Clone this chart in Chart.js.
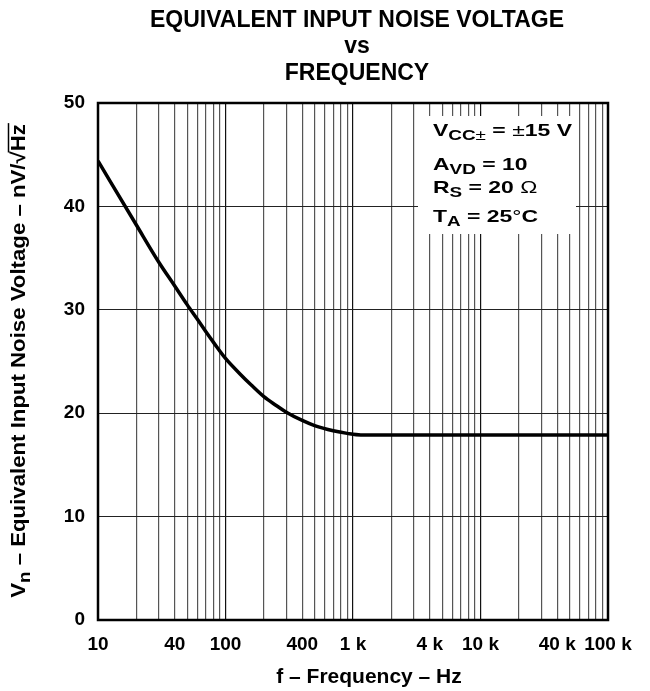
<!DOCTYPE html>
<html>
<head>
<meta charset="utf-8">
<script src="https://cdn.jsdelivr.net/npm/chart.js@4.4.0/dist/chart.umd.min.js"></script>
<style>
  html, body { margin: 0; padding: 0; background: #fff; }
  #wrap { width: 650px; height: 691px; }
</style>
</head>
<body>
<div id="wrap"><canvas id="noiseChart" width="650" height="691"></canvas></div>
<script>
// curve
const freqHz  = [10, 20, 30, 40, 50, 60, 70, 80, 100, 130, 160, 200, 250, 300, 400, 500, 700, 900, 1150, 2000, 100000];
const noiseNv = [44.4, 38.2, 34.6, 32.3, 30.5, 29.1, 27.9, 26.9, 25.3, 23.8, 22.7, 21.6, 20.75, 20.1, 19.3, 18.8, 18.3, 18.05, 17.9, 17.9, 17.9];

const xTickValues = [10, 40, 100, 400, 1000, 4000, 10000, 40000, 100000];
const xTickText   = ['10', '40', '100', '400', '1 k', '4 k', '10 k', '40 k', '100 k'];

const titleLines = ['EQUIVALENT INPUT NOISE VOLTAGE', 'vs', 'FREQUENCY'];

const FONT = "'Liberation Sans', Arial, sans-serif";

// grid lines at 1..9 x each decade
const gridValues = [];
for (let d = 10; d < 100000; d *= 10) {
  for (let m = 1; m < 10; m++) gridValues.push(d * m);
}
gridValues.push(100000);

// runs are [text, isSub, plainWeight]
function setFont(ctx, size, sub, plain) {
  const fs = sub ? Math.round(size * 0.85) : size;
  ctx.font = (plain ? '' : 'bold ') + fs + 'px ' + FONT;
}
function runsWidth(ctx, runs, size) {
  let w = 0;
  runs.forEach(([txt, sub, plain]) => {
    setFont(ctx, size, sub, plain);
    w += ctx.measureText(txt).width;
  });
  return w;
}
function drawRuns(ctx, runs, x, y, size, subDrop) {
  runs.forEach(([txt, sub, plain]) => {
    setFont(ctx, size, sub, plain);
    ctx.fillText(txt, x, sub ? y + subDrop : y);
    x += ctx.measureText(txt).width;
  });
  return x;
}

const decorPlugin = {
  id: 'decor',
  beforeDatasetsDraw(chart) {
    const { ctx, chartArea } = chart;
    // white patch behind the conditions text
    ctx.save();
    ctx.fillStyle = '#fff';
    ctx.fillRect(chartArea.left + 320, chartArea.top + 13, 158, 118);
    ctx.restore();
  },
  afterDraw(chart) {
    const { ctx, chartArea } = chart;
    ctx.save();
    ctx.fillStyle = '#000';
    ctx.strokeStyle = '#000';

    // frame
    ctx.lineWidth = 2.5;
    ctx.strokeRect(chartArea.left, chartArea.top, chartArea.right - chartArea.left, chartArea.bottom - chartArea.top);

    // title
    ctx.textAlign = 'center';
    ctx.textBaseline = 'alphabetic';
    ctx.font = 'bold 23px ' + FONT;
    ctx.fillText(titleLines[0], 357, 27);
    ctx.fillText(titleLines[1], 357, 53);
    ctx.fillText(titleLines[2], 357, 80);

    // x axis title
    ctx.save();
    ctx.translate(369, 683);
    ctx.scale(1.05, 1);
    ctx.font = 'bold 20px ' + FONT;
    ctx.fillText('f \u2013 Frequency \u2013 Hz', 0, 0);
    ctx.restore();

    // conditions, stretched like the original lettering
    ctx.textAlign = 'left';
    const bx = chartArea.left + 335;
    const lines = [
      [[['V'], ['CC', true], ['\u00b1', true, true], [' = '], ['\u00b1', false, true], ['15 V']], 136],
      [[['A'], ['VD', true], [' = 10']], 170],
      [[['R'], ['S', true], [' = 20 '], ['\u03a9', false, true]], 193],
      [[['T'], ['A', true], [' = 25'], ['\u00b0', false, true], ['C']], 222]
    ];
    lines.forEach(([runs, y]) => {
      ctx.save();
      ctx.translate(bx, y);
      ctx.scale(1.35, 1);
      drawRuns(ctx, runs, 0, 0, 17, 4);
      ctx.restore();
    });

    // y axis title, rotated
    const yRuns = [['V'], ['n', true], [' \u2013 Equivalent Input Noise Voltage \u2013 nV/'], ['\u221a'], ['Hz']];
    const ySize = 20;
    const w = runsWidth(ctx, yRuns, ySize);
    ctx.translate(25, 361);
    ctx.rotate(-Math.PI / 2);
    ctx.scale(1.11, 1);
    const endX = drawRuns(ctx, yRuns, -w / 2, 0, ySize, 5);
    ctx.font = 'bold ' + ySize + 'px ' + FONT;
    const hzW = ctx.measureText('Hz').width;
    ctx.lineWidth = 1.5;
    ctx.beginPath();
    ctx.moveTo(endX - hzW - 1, -16.5);
    ctx.lineTo(endX + 1, -16.5);
    ctx.stroke();
    ctx.restore();
  }
};

new Chart(document.getElementById('noiseChart').getContext('2d'), {
  type: 'line',
  data: {
    datasets: [{
      label: 'Vn',
      data: freqHz.map((f, i) => ({ x: f, y: noiseNv[i] })),
      borderColor: '#000',
      borderWidth: 3.5,
      pointRadius: 0,
      fill: false,
      cubicInterpolationMode: 'monotone'
    }]
  },
  options: {
    responsive: false,
    animation: false,
    layout: { padding: { top: 103, right: 42, left: 0, bottom: 0 } },
    plugins: {
      legend: { display: false },
      title: { display: false },
      tooltip: { enabled: false }
    },
    scales: {
      x: {
        type: 'logarithmic',
        min: 10,
        max: 100000,
        border: { display: false },
        grid: {
          drawTicks: false,
          color: ctx => (ctx.tick && Math.log10(ctx.tick.value) % 1 === 0) ? '#111' : '#555',
          lineWidth: 1.2
        },
        afterBuildTicks: s => { s.ticks = gridValues.map(v => ({ value: v })); },
        afterFit: s => { s.height = 71; s.paddingLeft = 0; s.paddingRight = 0; },
        ticks: {
          autoSkip: false,
          maxRotation: 0,
          padding: 13,
          color: '#000',
          font: { family: FONT, size: 19, weight: 'bold' },
          callback: v => {
            const i = xTickValues.indexOf(v);
            return i >= 0 ? xTickText[i] : '';
          }
        }
      },
      y: {
        min: 0,
        max: 50,
        border: { display: false },
        grid: { drawTicks: false, color: '#222', lineWidth: 1 },
        afterFit: s => { s.width = 98; s.paddingTop = 0; s.paddingBottom = 0; },
        ticks: {
          stepSize: 10,
          padding: 13,
          color: '#000',
          font: { family: FONT, size: 19, weight: 'bold' }
        }
      }
    }
  },
  plugins: [decorPlugin]
});
</script>
</body>
</html>
